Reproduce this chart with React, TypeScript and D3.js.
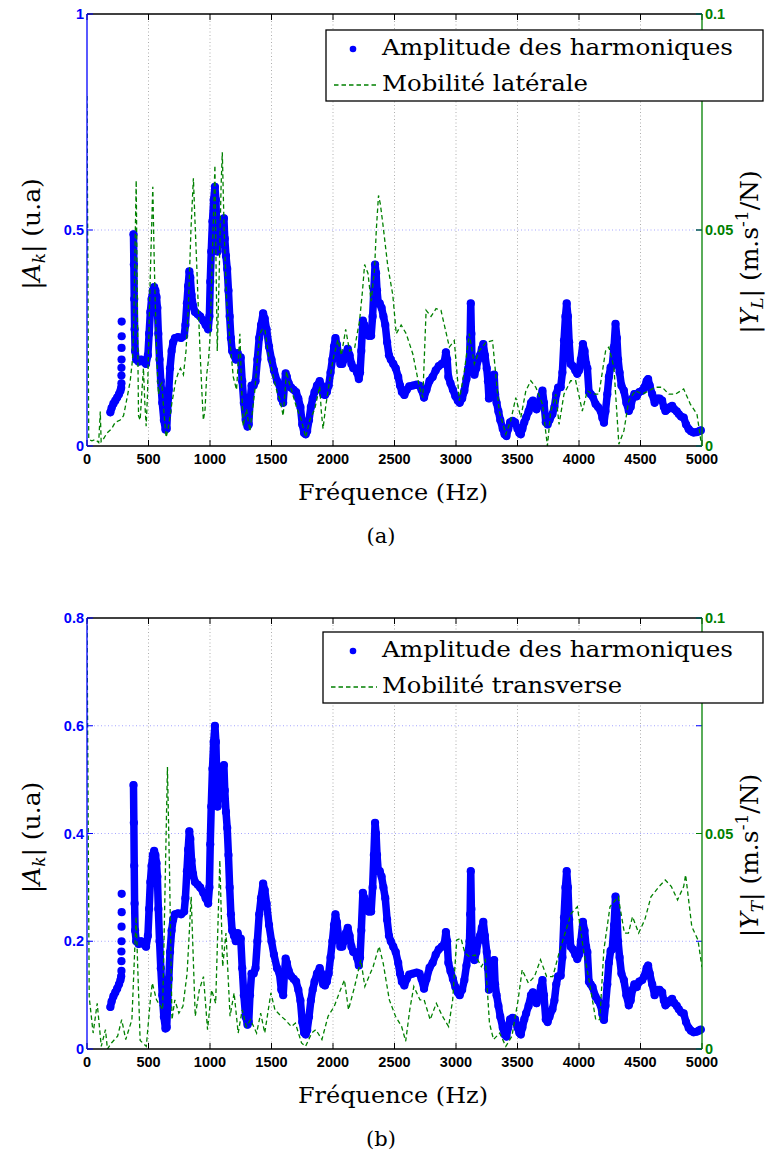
import React from 'react';
import * as d3 from 'd3';

type P = [number, number];

// Harmonic amplitudes |A_k| (frequency Hz, amplitude u.a); NaN marks a gap
const harmonicAmp: P[] = [
  [190,0.078],[200,0.088],[215,0.098],[230,0.105],[245,0.112],[260,0.12],[272,0.128],[278,0.135],
  [330,NaN],
  [378,0.49],[381,0.42],[384,0.34],[387,0.27],[391,0.22],[400,0.2],[420,0.195],[440,0.2],[460,0.195],[480,0.19],[495,0.21],[505,0.26],[515,0.31],[525,0.34],[535,0.36],[546,0.368],[556,0.36],[565,0.345],[572,0.32],[580,0.26],[590,0.2],[600,0.15],[612,0.1],[625,0.06],[638,0.038],[648,0.04],[655,0.08],[665,0.13],[675,0.18],[688,0.22],[700,0.24],[715,0.25],[740,0.252],[765,0.25],[790,0.255],[800,0.28],[812,0.33],[822,0.37],[832,0.404],[840,0.39],[850,0.35],[862,0.325],[878,0.31],[900,0.305],[920,0.3],[945,0.29],[965,0.28],[985,0.27],[995,0.3],[1002,0.38],[1010,0.45],[1020,0.52],[1030,0.57],[1040,0.6],[1048,0.57],[1055,0.5],[1062,0.45],[1072,0.5],[1082,0.47],[1090,0.52],[1100,0.49],[1113,0.527],[1120,0.48],[1130,0.44],[1140,0.41],[1150,0.36],[1160,0.3],[1170,0.25],[1180,0.22],[1195,0.21],[1210,0.2],[1225,0.215],[1240,0.2],[1250,0.205],[1262,0.15],[1275,0.1],[1290,0.06],[1305,0.045],[1315,0.05],[1325,0.1],[1338,0.14],[1355,0.14],[1370,0.15],[1385,0.2],[1400,0.25],[1415,0.28],[1432,0.307],[1445,0.295],[1460,0.27],[1480,0.23],[1500,0.2],[1520,0.175],[1545,0.15],[1565,0.14],[1580,0.11],[1595,0.1],[1605,0.14],[1615,0.168],[1625,0.16],[1640,0.145],[1660,0.135],[1680,0.13],[1700,0.125],[1718,0.11],[1735,0.09],[1750,0.05],[1765,0.03],[1778,0.027],[1790,0.035],[1805,0.06],[1820,0.09],[1835,0.11],[1850,0.125],[1870,0.14],[1892,0.15],[1905,0.14],[1920,0.12],[1935,0.118],[1950,0.125],[1965,0.14],[1980,0.17],[1995,0.2],[2008,0.23],[2020,0.25],[2032,0.235],[2045,0.21],[2060,0.19],[2075,0.19],[2090,0.2],[2105,0.215],[2120,0.225],[2135,0.21],[2150,0.19],[2165,0.18],[2180,0.18],[2195,0.17],[2210,0.155],[2220,0.17],[2230,0.22],[2243,0.29],[2255,0.28],[2270,0.26],[2290,0.255],[2310,0.255],[2322,0.3],[2332,0.36],[2342,0.42],[2350,0.4],[2358,0.36],[2368,0.33],[2380,0.33],[2395,0.32],[2410,0.3],[2425,0.28],[2440,0.24],[2455,0.21],[2470,0.2],[2490,0.19],[2510,0.18],[2530,0.16],[2545,0.14],[2560,0.125],[2580,0.118],[2600,0.13],[2620,0.138],[2650,0.14],[2680,0.142],[2703,0.14],[2720,0.13],[2740,0.112],[2760,0.13],[2785,0.151],[2810,0.16],[2835,0.175],[2860,0.185],[2885,0.19],[2905,0.195],[2918,0.217],[2928,0.2],[2938,0.16],[2955,0.145],[2975,0.13],[2995,0.115],[3015,0.105],[3030,0.1],[3050,0.11],[3068,0.128],[3085,0.155],[3100,0.18],[3110,0.2],[3115,0.25],[3120,0.33],[3125,0.26],[3130,0.2],[3140,0.175],[3150,0.165],[3165,0.18],[3180,0.2],[3195,0.21],[3210,0.225],[3222,0.236],[3235,0.21],[3250,0.18],[3260,0.15],[3268,0.11],[3275,0.16],[3285,0.13],[3298,0.12],[3310,0.165],[3318,0.12],[3330,0.1],[3345,0.08],[3360,0.06],[3380,0.04],[3395,0.027],[3410,0.023],[3425,0.04],[3440,0.055],[3460,0.058],[3480,0.055],[3500,0.04],[3515,0.03],[3527,0.027],[3540,0.04],[3555,0.055],[3570,0.066],[3590,0.08],[3610,0.1],[3625,0.105],[3640,0.09],[3655,0.085],[3675,0.1],[3690,0.115],[3703,0.128],[3715,0.1],[3730,0.055],[3745,0.05],[3760,0.06],[3784,0.074],[3800,0.09],[3815,0.12],[3830,0.135],[3851,0.136],[3865,0.17],[3878,0.244],[3890,0.3],[3900,0.33],[3910,0.3],[3920,0.24],[3932,0.19],[3950,0.185],[3970,0.175],[3986,0.167],[4000,0.175],[4015,0.2],[4032,0.236],[4045,0.22],[4058,0.19],[4068,0.18],[4081,0.125],[4095,0.12],[4110,0.115],[4135,0.097],[4155,0.09],[4176,0.081],[4190,0.065],[4203,0.054],[4215,0.08],[4230,0.12],[4243,0.16],[4257,0.182],[4270,0.185],[4285,0.23],[4297,0.283],[4308,0.25],[4318,0.2],[4330,0.17],[4345,0.14],[4365,0.128],[4385,0.1],[4405,0.081],[4420,0.09],[4435,0.11],[4450,0.12],[4470,0.115],[4490,0.125],[4514,0.128],[4530,0.135],[4550,0.15],[4562,0.155],[4575,0.14],[4595,0.12],[4615,0.1],[4635,0.11],[4655,0.11],[4676,0.105],[4690,0.09],[4703,0.081],[4720,0.085],[4740,0.09],[4757,0.093],[4775,0.085],[4795,0.08],[4811,0.074],[4830,0.068],[4851,0.066],[4870,0.05],[4892,0.039],[4910,0.034],[4932,0.031],[4955,0.032],[4975,0.034],[4990,0.036]
];

// Isolated harmonic amplitudes of the column near 280 Hz (separate dots)
const harmonicColumn: P[] = [
  [280,0.145],[280,0.163],[280,0.181],[281,0.2],[281,0.227],[282,0.254],[282,0.288]
];

// Lateral mobility |Y_L| (m.s-1/N)
const lateralMob: P[] = [
  [0,0.081],[14,0.0015],[40,0.0012],[70,0.0015],[95,0.0008],[108,0.008],[115,0.001],[125,0.0012],[162,0.003],[200,0.004],[230,0.0055],[270,0.006],[297,0.007],[325,0.011],[351,0.015],[370,0.02],[378,0.026],[390,0.045],[400,0.0615],[410,0.03],[419,0.007],[432,0.006],[445,0.012],[459,0.018],[470,0.01],[481,0.0046],[492,0.012],[500,0.022],[515,0.04],[535,0.06],[545,0.045],[554,0.034],[568,0.02],[581,0.012],[595,0.014],[608,0.0146],[625,0.008],[643,0.002],[660,0.004],[676,0.007],[690,0.01],[703,0.012],[720,0.015],[743,0.017],[760,0.018],[784,0.0165],[805,0.022],[824,0.032],[845,0.05],[865,0.062],[878,0.052],[892,0.042],[905,0.032],[919,0.022],[935,0.012],[946,0.006],[960,0.0085],[973,0.0165],[988,0.02],[1000,0.025],[1020,0.045],[1040,0.065],[1050,0.04],[1059,0.022],[1075,0.04],[1090,0.06],[1100,0.068],[1115,0.05],[1135,0.034],[1160,0.025],[1189,0.016],[1216,0.013],[1243,0.026],[1255,0.015],[1270,0.0046],[1285,0.007],[1297,0.0085],[1310,0.006],[1324,0.0035],[1345,0.008],[1365,0.013],[1385,0.02],[1405,0.026],[1425,0.027],[1446,0.027],[1473,0.0215],[1500,0.018],[1527,0.0146],[1550,0.012],[1567,0.011],[1595,0.007],[1622,0.0173],[1640,0.015],[1662,0.013],[1703,0.009],[1743,0.006],[1778,0.002],[1811,0.006],[1851,0.0085],[1892,0.0138],[1905,0.008],[1919,0.004],[1940,0.009],[1959,0.0127],[2000,0.02],[2040,0.0246],[2068,0.021],[2103,0.027],[2135,0.022],[2176,0.0227],[2216,0.029],[2240,0.036],[2257,0.042],[2284,0.04],[2310,0.0335],[2338,0.041],[2352,0.05],[2370,0.058],[2385,0.056],[2405,0.0515],[2446,0.0415],[2486,0.035],[2514,0.026],[2554,0.028],[2595,0.026],[2649,0.0213],[2703,0.0136],[2730,0.0112],[2757,0.0314],[2797,0.03],[2838,0.0318],[2878,0.0314],[2946,0.0229],[2986,0.0244],[3027,0.0105],[3068,0.0174],[3108,0.026],[3149,0.019],[3189,0.022],[3243,0.024],[3297,0.0244],[3351,0.0081],[3405,0.0027],[3446,0.006],[3486,0.0112],[3527,0.0066],[3568,0.0128],[3608,0.0151],[3649,0.0136],[3703,0.0097],[3743,0.0],[3770,0.008],[3811,0.012],[3838,0.005],[3878,0.012],[3932,0.0151],[3973,0.0151],[4027,0.0081],[4068,0.0128],[4108,0.012],[4162,0.012],[4216,0.022],[4243,0.0229],[4284,0.0182],[4324,0.0004],[4365,0.0035],[4405,0.0105],[4459,0.0128],[4514,0.012],[4568,0.0128],[4622,0.0136],[4676,0.0136],[4730,0.012],[4784,0.012],[4851,0.0132],[4905,0.0097],[4959,0.0074],[4995,0.0004]
];

// Transverse mobility |Y_T| (m.s-1/N)
const transverseMob: P[] = [
  [0,0.1],[18,0.012],[50,0.0037],[83,0.0106],[116,0.0006],[150,0.0045],[166,0],[199,0.0014],[249,0.003],[282,0.0068],[315,0.0022],[365,0.0068],[399,0.0307],[432,0.002],[482,0.0006],[515,0.0114],[531,0.0153],[565,0.0114],[615,0.0091],[654,0.0654],[671,0.041],[691,0.0068],[714,0.0114],[747,0.0083],[780,0.0099],[814,0.0176],[847,0.0353],[880,0.0076],[913,0.0137],[947,0.0168],[980,0.0045],[1013,0.0137],[1046,0.0106],[1080,0.0438],[1103,0.0191],[1130,0.0269],[1163,0.0076],[1196,0.013],[1229,0.0037],[1262,0.0091],[1295,0.0052],[1329,0.0068],[1379,0.0037],[1412,0.0083],[1445,0.0037],[1495,0.013],[1528,0.0091],[1578,0.0076],[1611,0.0068],[1661,0.0052],[1694,0.006],[1744,0.0014],[1777,0.0006],[1827,0.0037],[1860,0.0045],[1910,0.0022],[1960,0.0076],[2010,0.0099],[2060,0.0137],[2093,0.016],[2126,0.0091],[2176,0.0145],[2226,0.0207],[2259,0.0145],[2326,0.0191],[2375,0.0238],[2408,0.0199],[2458,0.0114],[2508,0.0076],[2558,0.0052],[2591,0.0018],[2624,0.0091],[2657,0.0145],[2707,0.0114],[2741,0.0114],[2790,0.0068],[2840,0.0106],[2890,0.0076],[2940,0.0052],[2973,0.0114],[3006,0.0253],[3040,0.0257],[3073,0.0222],[3106,0.0215],[3156,0.0218],[3206,0.0191],[3239,0.0207],[3272,0.006],[3305,0.0022],[3355,0.0037],[3405,0.0006],[3455,0.003],[3505,0.0114],[3538,0.0184],[3588,0.0153],[3638,0.0168],[3687,0.0207],[3737,0.0168],[3787,0.0168],[3837,0.0222],[3887,0.0269],[3937,0.0315],[3987,0.033],[4036,0.023],[4086,0.0153],[4136,0.0068],[4169,0.0068],[4202,0.023],[4252,0.033],[4319,0.0353],[4369,0.0269],[4402,0.0269],[4435,0.0307],[4485,0.0269],[4535,0.03],[4585,0.0353],[4651,0.0377],[4701,0.0392],[4751,0.0377],[4801,0.0346],[4851,0.0377],[4867,0.0404],[4917,0.0284],[4967,0.0253],[5000,0.019]
];

const freqTicks = [0, 500, 1000, 1500, 2000, 2500, 3000, 3500, 4000, 4500, 5000];
const topAmpTicks = [0, 0.5, 1];
const bottomAmpTicks = [0, 0.2, 0.4, 0.6, 0.8];
const mobTicks = [0, 0.05, 0.1];

const BLUE = '#0000ff';
const GREEN = '#008000';
const SERIF = '"DejaVu Serif", "Liberation Serif", serif';
const SANS = '"Liberation Sans", Arial, sans-serif';

interface PanelProps {
  id: string;
  top: number;
  bottom: number;
  ampMax: number;
  ampTicks: number[];
  mob: P[];
  legendLabel: string;
  legendLabelLen: number;
  sub: string;
  caption: string;
  legendTop: number;
  legendLeft: number;
}

function Panel(p: PanelProps) {
  const x0 = 87, x1 = 702;
  const x = d3.scaleLinear().domain([0, 5000]).range([x0, x1]);
  const yA = d3.scaleLinear().domain([0, p.ampMax]).range([p.bottom, p.top]);
  const yM = d3.scaleLinear().domain([0, 0.1]).range([p.bottom, p.top]);
  const ampLine = d3.line<P>().defined(d => !isNaN(d[1])).x(d => x(d[0])).y(d => yA(d[1]));
  const mobLine = d3.line<P>().x(d => x(d[0])).y(d => yM(d[1]));
  const tl = 6;
  const midY = (p.top + p.bottom) / 2;
  const legW = 763 - p.legendLeft;
  const legH = 71;
  return (
    <g>
      <defs>
        <clipPath id={p.id}>
          <rect x={x0} y={p.top} width={x1 - x0} height={p.bottom - p.top} />
        </clipPath>
      </defs>
      {freqTicks.slice(1, -1).map(t => (
        <line key={'gx' + t} x1={x(t)} x2={x(t)} y1={p.top} y2={p.bottom} stroke="#000" strokeOpacity={0.4} strokeWidth={0.8} strokeDasharray="1,2.5" />
      ))}
      {p.ampTicks.slice(1, -1).map(t => (
        <line key={'gy' + t} x1={x0} x2={x1} y1={yA(t)} y2={yA(t)} stroke={BLUE} strokeOpacity={0.45} strokeWidth={0.8} strokeDasharray="1,2.5" />
      ))}
      <path d={ampLine(harmonicAmp) || ''} fill="none" stroke={BLUE} strokeWidth={7.5} strokeLinejoin="round" strokeLinecap="round" />
      {harmonicAmp.filter(d => !isNaN(d[1])).concat(harmonicColumn).map((d, i) => (
        <circle key={'a' + i} cx={x(d[0])} cy={yA(d[1])} r={4.1} fill={BLUE} />
      ))}
      <path d={mobLine(p.mob) || ''} fill="none" stroke={GREEN} strokeWidth={1.3} strokeDasharray="4.5,3" clipPath={`url(#${p.id})`} />
      <line x1={x0} x2={x1} y1={p.top} y2={p.top} stroke="#000" strokeWidth={1.3} />
      <line x1={x0} x2={x1} y1={p.bottom} y2={p.bottom} stroke="#000" strokeWidth={1.3} />
      {freqTicks.map(t => (
        <g key={'xt' + t}>
          <line x1={x(t)} x2={x(t)} y1={p.bottom} y2={p.bottom - tl} stroke="#000" strokeWidth={1} />
          <line x1={x(t)} x2={x(t)} y1={p.top} y2={p.top + tl} stroke="#000" strokeWidth={1} />
          <text x={x(t)} y={p.bottom + 18} textAnchor="middle" fontFamily={SANS} fontWeight="bold" fontSize={14.5} fill="#000">{t}</text>
        </g>
      ))}
      <line x1={x0} x2={x0} y1={p.top} y2={p.bottom} stroke={BLUE} strokeWidth={1.3} />
      {p.ampTicks.map(t => (
        <g key={'yt' + t}>
          <line x1={x0} x2={x0 + tl} y1={yA(t)} y2={yA(t)} stroke={BLUE} strokeWidth={1} />
          <line x1={x1} x2={x1 - tl} y1={yA(t)} y2={yA(t)} stroke={BLUE} strokeWidth={1} />
          <text x={x0 - 3} y={yA(t)} dy="0.36em" textAnchor="end" fontFamily={SANS} fontWeight="bold" fontSize={14.5} fill={BLUE}>{String(t)}</text>
        </g>
      ))}
      <line x1={x1} x2={x1} y1={p.top} y2={p.bottom} stroke={GREEN} strokeWidth={1.3} />
      {mobTicks.map(t => (
        <g key={'mt' + t}>
          <line x1={x1} x2={x1 - tl} y1={yM(t)} y2={yM(t)} stroke={GREEN} strokeWidth={1} />
          <text x={x1 + 3} y={yM(t)} dy="0.36em" textAnchor="start" fontFamily={SANS} fontWeight="bold" fontSize={14.5} fill={GREEN}>{String(t)}</text>
        </g>
      ))}
      <text x={393} y={p.bottom + 54} textAnchor="middle" fontFamily={SERIF} fontSize={23} textLength={190} lengthAdjust="spacingAndGlyphs" fill="#000">Fréquence (Hz)</text>
      <text transform={`translate(40,${midY + 4}) rotate(-90)`} textAnchor="middle" fontFamily={SERIF} fontSize={25} fill="#000">
        <tspan>|</tspan><tspan fontStyle="italic">A</tspan><tspan fontStyle="italic" fontSize={17} dy={5}>k</tspan><tspan dy={-5}>| (u.a)</tspan>
      </text>
      <text transform={`translate(758,${midY + 22}) rotate(-90)`} textAnchor="middle" fontFamily={SERIF} fontSize={25} fill="#000">
        <tspan>|</tspan><tspan fontStyle="italic">Y</tspan><tspan fontStyle="italic" fontSize={17} dy={5}>{p.sub}</tspan><tspan dy={-5}>| (m.s</tspan><tspan fontSize={17} dy={-10}>-1</tspan><tspan dy={10}>/N)</tspan>
      </text>
      <text x={381} y={p.bottom + 97} textAnchor="middle" fontFamily={SERIF} fontSize={21} fill="#000">{p.caption}</text>
      <rect x={p.legendLeft} y={p.legendTop} width={legW} height={legH} fill="#fff" stroke="#000" strokeWidth={1.3} />
      <circle cx={353} cy={p.legendTop + 19} r={3.3} fill={BLUE} />
      <line x1={p.legendLeft + 8} x2={377} y1={p.legendTop + 55} y2={p.legendTop + 55} stroke={GREEN} strokeWidth={1.3} strokeDasharray="4.5,3" />
      <text x={382} y={p.legendTop + 25} fontFamily={SERIF} fontSize={22} textLength={351} lengthAdjust="spacingAndGlyphs" fill="#000">Amplitude des harmoniques</text>
      <text x={382} y={p.legendTop + 61} fontFamily={SERIF} fontSize={22} textLength={p.legendLabelLen} lengthAdjust="spacingAndGlyphs" fill="#000">{p.legendLabel}</text>
    </g>
  );
}

export default function App() {
  return (
    <svg width={767} height={1154} style={{ position: 'absolute', left: 0, top: 0, background: '#fff' }}>
      <rect x={0} y={0} width={767} height={1154} fill="#fff" />
      <Panel id="clipA" top={14} bottom={446} ampMax={1} ampTicks={topAmpTicks} mob={lateralMob}
        legendLabel="Mobilité latérale" legendLabelLen={206} sub="L" caption="(a)" legendTop={30} legendLeft={326} />
      <Panel id="clipB" top={618} bottom={1049} ampMax={0.8} ampTicks={bottomAmpTicks} mob={transverseMob}
        legendLabel="Mobilité transverse" legendLabelLen={240} sub="T" caption="(b)" legendTop={632} legendLeft={323} />
    </svg>
  );
}
